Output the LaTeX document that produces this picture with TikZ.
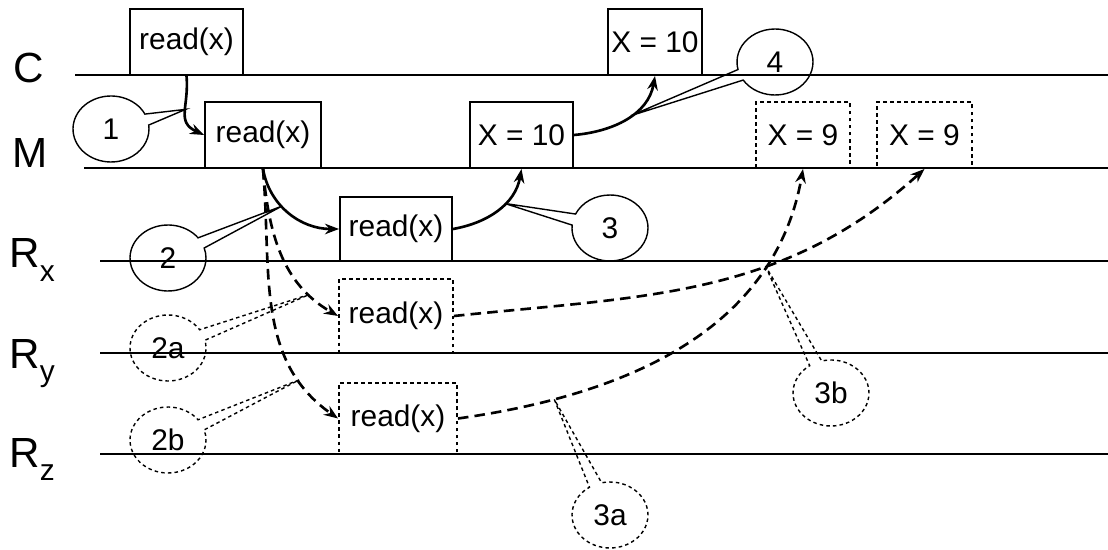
\documentclass[tikz,border=0pt]{standalone}
\usepackage{fontspec}
\setmainfont{Liberation Sans}
\usetikzlibrary{shapes.callouts,arrows.meta}

\newcommand{\lanesub}[1]{\raisebox{-7.5pt}{\fontsize{17}{17}\selectfont #1}}

\tikzset{
  lane/.style={line width=1.1pt},
  lbl/.style={anchor=base west, inner sep=0pt, font=\fontsize{24}{24}\selectfont},
  box/.style={draw, line width=1.1pt, inner sep=0pt, minimum height=1.32cm, font=\fontsize{17}{17}\selectfont},
  dbox/.style={box, dash pattern=on 2.2pt off 1.8pt},
  note/.style={ellipse callout, draw, line width=0.8pt, inner sep=0pt, minimum width=1.52cm, minimum height=1.32cm, callout pointer arc=20, font=\fontsize{17}{17}\selectfont},
  dnote/.style={note, dash pattern=on 2pt off 1.8pt},
  go/.style={-{Stealth[length=8pt,width=6pt]}, line width=1.5pt},
  dgo/.style={go, dash pattern=on 6pt off 3.5pt}
}

\begin{document}
\begin{tikzpicture}[x=0.02cm, y=-0.02cm]

    \useasboundingbox (0,0) rectangle (1108,550);

    \node[lbl] (C) at (13,83) {C};
    \node[lbl] (M) at (12,168) {M};
    \node[lbl] (Rx) at (9,268) {R\lanesub{x}};
    \node[lbl] (Ry) at (9,368) {R\lanesub{y}};
    \node[lbl] (Rz) at (9,467) {R\lanesub{z}};

    \draw[lane] (75,75) -- (1108,75);
    \draw[lane] (84,168) -- (1108,168);
    \draw[lane] (100,261) -- (1108,261);
    \draw[lane] (100,353) -- (1108,353);
    \draw[lane] (100,454) -- (1108,454);

    \node[box, minimum width=2.26cm] (cr) at (186.5,42) {read(x)};
    \node[box, minimum width=2.32cm] (mr) at (263,135) {read(x)};
    \node[box, minimum width=2.06cm] (mx) at (521.5,135) {X = 10};
    \node[box, minimum width=1.88cm] (cx) at (655,42) {X = 10};
    \node[box, minimum width=2.24cm, minimum height=1.28cm] (xr) at (396,229) {read(x)};
    \node[dbox, minimum width=2.28cm, minimum height=1.48cm] (yr) at (396,316) {read(x)};
    \node[dbox, minimum width=2.36cm, minimum height=1.42cm] (zr) at (398,418.5) {read(x)};
    \node[dbox, minimum width=1.88cm] (ma) at (803,135) {X = 9};
    \node[dbox, minimum width=1.9cm] (mb) at (924.5,135) {X = 9};

    \draw[go] (cr.south) to[out=-85,in=155,looseness=1.3] coordinate[pos=0.45] (t1) (mr.west);
    \draw[go] (mr.south) to[out=-80,in=180] coordinate[pos=0.4] (t2) (xr.west);
    \draw[go] (xr.east) to[out=10,in=-100] coordinate[pos=0.6] (t3) (mx.south);
    \draw[go] (mx.east) to[out=5,in=-100] coordinate[pos=0.55] (t4) (cx.south);
    \draw[dgo] (mr.south) to[out=-85,in=150] coordinate[pos=0.8] (t2a) (yr.west);
    \draw[dgo] (mr.south) to[out=-85,in=145] coordinate[pos=0.8] (t2b) (zr.west);
    \draw[dgo] (zr.east) to[out=8,in=-100] coordinate[pos=0.2] (t3a) (ma.south);
    \draw[dgo] (yr.east) to[out=6,in=-138] coordinate[pos=0.63] (t3b) (mb.south);

    \node[note, callout absolute pointer={(t1)}] (n1) at (111,129) {1};
    \node[note, callout absolute pointer={(t2)}] (n2) at (168,258) {2};
    \node[note, callout absolute pointer={(t3)}] (n3) at (610,228) {3};
    \node[note, callout absolute pointer={(t4)}] (n4) at (775,62) {4};
    \node[dnote, callout absolute pointer={(t2a)}] (n2a) at (168,348) {2a};
    \node[dnote, callout absolute pointer={(t2b)}] (n2b) at (168,440) {2b};
    \node[dnote, callout absolute pointer={(t3a)}] (n3a) at (610,515) {3a};
    \node[dnote, callout absolute pointer={(t3b)}] (n3b) at (831,393) {3b};

\end{tikzpicture}
\end{document}
